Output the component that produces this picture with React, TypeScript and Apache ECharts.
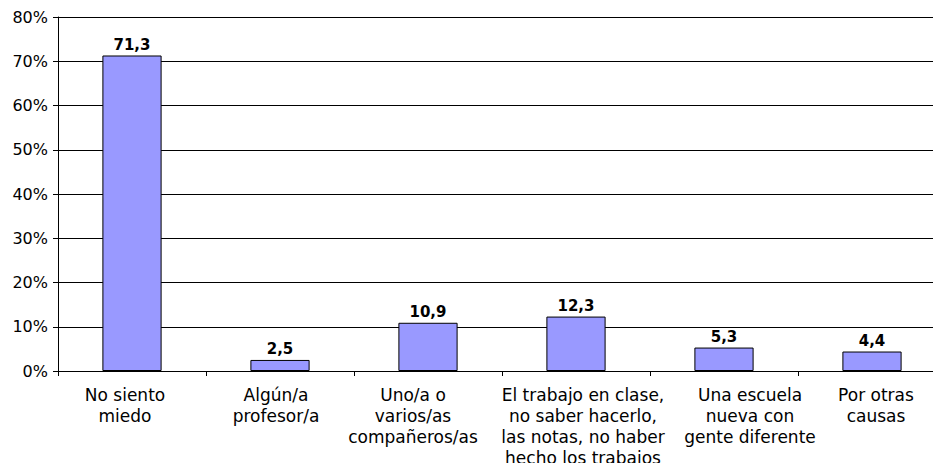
import React, { useEffect, useRef } from "react";
import * as echarts from "echarts";

const categories = [
  "No siento\nmiedo",
  "Algún/a\nprofesor/a",
  "Uno/a o\nvarios/as\ncompañeros/as",
  "El trabajo en clase,\nno saber hacerlo,\nlas notas, no haber\nhecho los trabajos",
  "Una escuela\nnueva con\ngente diferente",
  "Por otras\ncausas",
];
const values = [71.3, 2.5, 10.9, 12.3, 5.3, 4.4];
const yMin = 0;
const yMax = 80;
const yInterval = 10;
// horizontal nudge of each category label (px), as laid out in the reference
const labelShift = [-7, -4, -15, 7, 26, 4];

export default function App() {
  const ref = useRef<HTMLDivElement>(null);
  useEffect(() => {
    if (!ref.current) return;
    const chart = echarts.init(ref.current, null, { renderer: "svg" });
    const font = "'DejaVu Sans', Verdana, sans-serif";
    const catData = categories.map((c, i) => {
      const d = labelShift[i];
      const pad = d >= 0 ? [0, 0, 0, 2 * d] : [0, -2 * d, 0, 0];
      return { value: c, textStyle: { padding: pad } };
    });
    chart.setOption({
      animation: false,
      backgroundColor: "#ffffff",
      grid: {
        left: 58,
        top: 17,
        width: 888,
        height: 354,
        containLabel: false,
        outerBoundsMode: "none",
      },
      xAxis: {
        type: "category",
        data: catData,
        axisLine: { lineStyle: { color: "#000", width: 1 } },
        axisTick: { show: true, length: 5, lineStyle: { color: "#000" } },
        axisLabel: {
          color: "#000",
          fontFamily: font,
          fontSize: 17,
          lineHeight: 21,
          margin: 13,
          interval: 0,
        },
      },
      yAxis: {
        type: "value",
        min: yMin,
        max: yMax,
        interval: yInterval,
        axisLine: { show: true, lineStyle: { color: "#000", width: 1 } },
        axisTick: { show: true, length: 5, lineStyle: { color: "#000" } },
        splitLine: { show: true, lineStyle: { color: "#000", width: 1 } },
        axisLabel: {
          color: "#000",
          fontFamily: font,
          fontSize: 16,
          margin: 10,
          formatter: "{value}%",
        },
      },
      series: [
        {
          type: "bar",
          data: values,
          barWidth: "40%",
          itemStyle: { color: "#9999FF", borderColor: "#000", borderWidth: 1 },
          label: {
            show: true,
            position: "top",
            distance: 3,
            color: "#000",
            fontFamily: font,
            fontSize: 15,
            fontWeight: "bold",
            formatter: (p: any) => String(p.value).replace(".", ","),
          },
        },
      ],
    });
    return () => chart.dispose();
  }, []);
  return (
    <div
      ref={ref}
      style={{ position: "fixed", left: 0, top: 0, width: 933, height: 463 }}
    />
  );
}
